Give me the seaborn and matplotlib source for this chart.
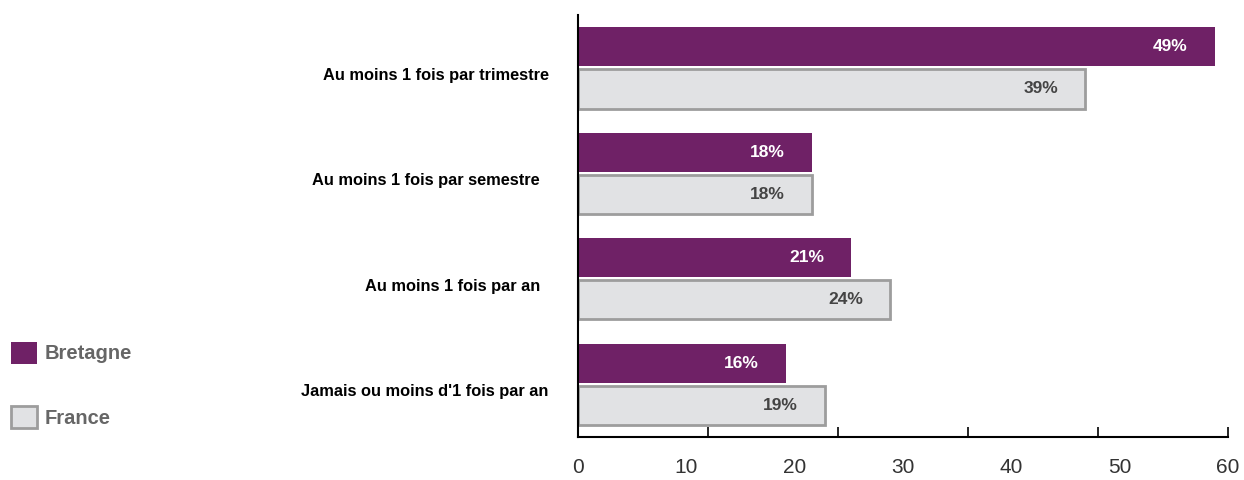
import numpy as np
import pandas as pd
import matplotlib.pyplot as plt
import matplotlib.patches as mpatches
import matplotlib.transforms as mtrans
import seaborn as sb

# data
categories = ["Au moins 1 fois par trimestre", "Au moins 1 fois par semestre  ",
              "Au moins 1 fois par an  ", "Jamais ou moins d'1 fois par an"]
bretagne = [49, 18, 21, 16]
france = [39, 18, 24, 19]
regions = ["Bretagne", "France"]
xtick_labels = ["0", "10", "20", "30", "40", "50", "60"]

purple = "#6f2166"
light = "#e1e2e4"
edge = "#9d9d9d"

df = pd.DataFrame({
    "cat": categories * 2,
    "val": bretagne + france,
    "region": [regions[0]] * 4 + [regions[1]] * 4,
})

sb.set_style("white")
plt.rcParams['font.family'] = ['Liberation Sans', 'DejaVu Sans']

fig = plt.figure(figsize=(12.44, 4.8), dpi=100)
ax = fig.add_axes([0.4646, 0.0896, 0.5225, 0.879])

sb.barplot(data=df, y="cat", x="val", hue="region", orient="h",
           palette=[purple, light], saturation=1, width=0.8, gap=0.07,
           ax=ax, legend=False)

# edges: France bars get grey outline
for bar in ax.containers[1]:
    bar.set_edgecolor(edge)
    bar.set_linewidth(2)
for bar in ax.containers[0]:
    bar.set_edgecolor("none")

# value labels inside bars
for cont, vals, col in [(ax.containers[0], bretagne, "white"), (ax.containers[1], france, "#444444")]:
    for bar, v in zip(cont, vals):
        ax.annotate(f"{v}%", (bar.get_width(), bar.get_y() + bar.get_height() / 2),
                    xytext=(-27, 0), textcoords="offset pixels", ha="right", va="center",
                    color=col, fontsize=12.5, fontweight="bold")

ax.set_xlim(0, 50)
ax.set_ylim(3.5, -0.5)
ax.set_xlabel("")
ax.set_ylabel("")

# tick marks at 0..50, labels spread evenly as in the reference
ax.xaxis.remove_overlapping_locs = False
ax.set_xticks(np.linspace(0, 50, len(xtick_labels)))
ax.set_xticklabels(xtick_labels)
ax.set_xticks([0, 10, 20, 30, 40, 50], minor=True)
ax.tick_params(axis="x", which="minor", direction="in", length=7, width=1.2, color="black", bottom=True)
ax.tick_params(axis="x", which="major", length=0, pad=15, labelsize=15, labelcolor="#333333")
ax.tick_params(axis="y", length=0, pad=21, labelsize=11.8)
shift = mtrans.ScaledTranslation(0, -0.06, fig.dpi_scale_trans)
for lbl in ax.get_yticklabels():
    lbl.set_fontweight("bold")
    lbl.set_color("black")
    lbl.set_transform(lbl.get_transform() + shift)

sb.despine(ax=ax, top=True, right=True)
for s in ["left", "bottom"]:
    ax.spines[s].set_color("black")
    ax.spines[s].set_linewidth(1.5)

handles = [mpatches.Patch(facecolor=purple, edgecolor="none", label=regions[0]),
           mpatches.Patch(facecolor=light, edgecolor=edge, linewidth=2, label=regions[1])]
leg = fig.legend(handles=handles, loc="upper left", bbox_to_anchor=(-0.006, 0.326),
                 frameon=False, fontsize=14.5, handlelength=1.3, handleheight=1.3,
                 labelspacing=2.1, handletextpad=0.4)
for t in leg.get_texts():
    t.set_color("#666666")
    t.set_fontweight("bold")

plt.savefig("out.png", dpi=100)
